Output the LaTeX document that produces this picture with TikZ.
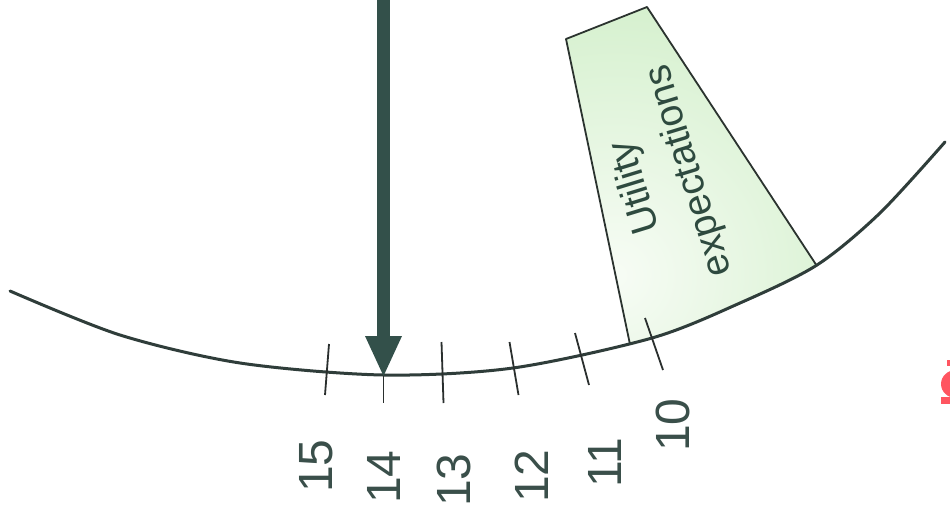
\documentclass[tikz,border=0pt]{standalone}
\usepackage{fontspec}
\setmainfont{Liberation Sans}
\definecolor{arcc}{HTML}{2F3D3A}
\definecolor{tickc}{HTML}{2A2F2E}
\definecolor{arrowc}{HTML}{33504A}
\definecolor{numc}{HTML}{3A4F4A}
\definecolor{boxtextc}{HTML}{2E4A3F}
\definecolor{boxgreen}{HTML}{C3EAB9}
\definecolor{boxwhite}{HTML}{F7FCF5}
\definecolor{boxedgec}{HTML}{2B332F}
\definecolor{redc}{HTML}{FF5560}
\begin{document}
\begin{tikzpicture}[x=1pt,y=-1pt,
  arcline/.style={line width=3pt, draw=arcc},
  tickline/.style={line width=1.8pt, draw=tickc},
  boxedge/.style={line width=1.8pt, draw=boxedgec, line join=round},
  numlab/.style={text=numc, font=\fontsize{48}{56}\selectfont, rotate=90, inner sep=0pt},
  boxlab/.style={text=boxtextc, font=\fontsize{39}{56}\selectfont, inner sep=0pt, align=center}]
\useasboundingbox (0,0) rectangle (950,513);
\fill[white] (0,0) rectangle (950,513);
% green sector
\begin{scope}
\clip plot[smooth,tension=0.5] coordinates {(10,291) (120,335) (240,363) (383,375) (513,368) (652,338) (740,303) (817,265) (880,213) (945,142)} -- (950,-20) -- (0,-20) -- cycle;
\begin{scope}
\clip (636,373) -- (566,39) -- (647,7) -- (834,292) -- cycle;
\fill[boxgreen] (560,0) rectangle (840,380);
\shade[inner color=boxwhite, outer color=boxgreen] (615,275) circle [radius=420];
\end{scope}
\draw[boxedge] (636,373) -- (566,39) -- (647,7) -- (834,292);
\end{scope}
% arc
\draw[arcline, line cap=round] plot[smooth,tension=0.5] coordinates {(10,291) (120,335) (240,363) (383,375) (513,368) (652,338) (740,303) (817,265) (880,213) (945,142)};
% ticks
\draw[tickline] (329,344) -- (325,395);
\draw[tickline] (383.5,345) -- (383.5,403);
\draw[tickline] (441.5,342) -- (443.5,403);
\draw[tickline] (509.5,342) -- (518.5,395);
\draw[tickline] (575,333) -- (589,385);
\draw[tickline] (645,318) -- (663,370);
% arrow
\coordinate (arrtop) at (383.5,-5);
\coordinate (arrtip) at (383.5,376);
\coordinate (arrbase) at (383.5,336);
\draw[line width=13pt, draw=arrowc] (arrtop) -- (arrbase);
\fill[arrowc] (arrtip) -- ++(-18.5,-40) -- ++(37,0) -- cycle;
% labels
\node[numlab] (l15) at (316.5,466) {15};
\node[numlab] (l14) at (384,477) {14};
\node[numlab] (l13) at (453.5,480) {13};
\node[numlab] (l12) at (531.5,476) {12};
\node[numlab] (l11) at (605,463) {11};
\node[numlab] (l10) at (672.5,425) {10};
\node[boxlab, rotate=107] (tue) at (663,179) {Utility\\expectations};
% red fragment
\fill[redc] (956,384) ellipse [x radius=15, y radius=14];
\fill[redc] (941,397) rectangle (951,404);
\fill[redc] (947,360) rectangle (951,366);
\end{tikzpicture}
\end{document}
